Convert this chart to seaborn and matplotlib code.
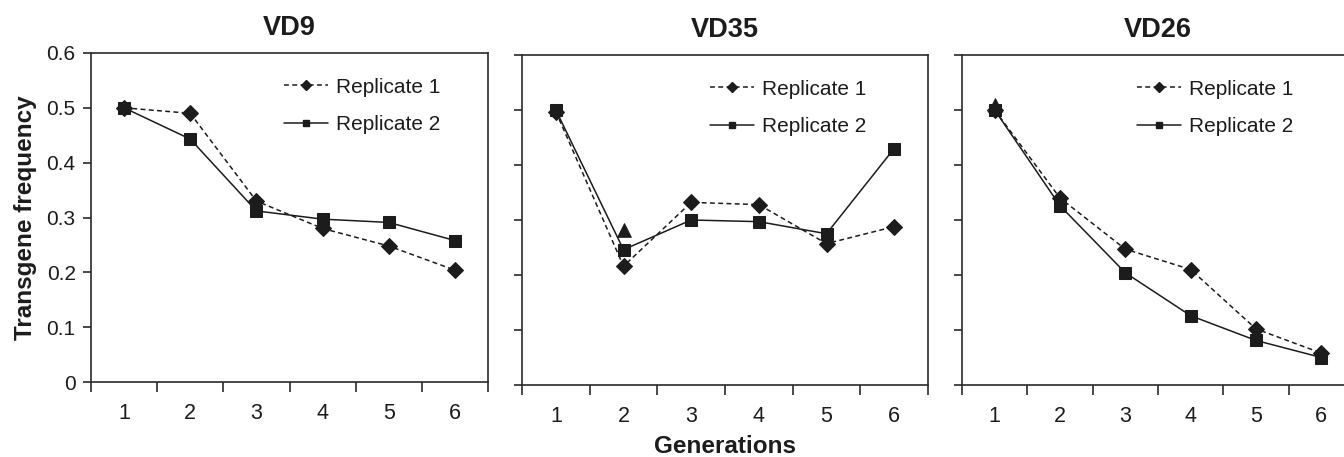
import numpy as np
import pandas as pd
import matplotlib
matplotlib.use("Agg")
import matplotlib.pyplot as plt
from matplotlib.lines import Line2D
import seaborn as sns

# ---------------- data ----------------
generations = [1, 2, 3, 4, 5, 6]
panel_titles = ["VD9", "VD35", "VD26"]
series_names = ["Replicate 1", "Replicate 2"]

vd9_rep1 = [0.500, 0.490, 0.330, 0.280, 0.248, 0.204]
vd9_rep2 = [0.500, 0.443, 0.312, 0.297, 0.291, 0.258]
vd35_rep1 = [0.497, 0.216, 0.332, 0.328, 0.257, 0.288]
vd35_rep2 = [0.500, 0.246, 0.300, 0.297, 0.275, 0.430]
vd26_rep1 = [0.500, 0.340, 0.247, 0.210, 0.102, 0.058]
vd26_rep2 = [0.500, 0.326, 0.204, 0.126, 0.081, 0.050]

# extra isolated triangle points visible in the figure
vd9_tri = [np.nan, np.nan, np.nan, np.nan, np.nan, np.nan]
vd35_tri = [np.nan, 0.282, np.nan, np.nan, np.nan, np.nan]
vd26_tri = [0.510, np.nan, np.nan, np.nan, np.nan, np.nan]

y_ticks = [0, 0.1, 0.2, 0.3, 0.4, 0.5, 0.6]
y_tick_labels = ["0", "0.1", "0.2", "0.3", "0.4", "0.5", "0.6"]
x_label = "Generations"
y_label = "Transgene frequency"

panels = [
    (vd9_rep1, vd9_rep2, vd9_tri),
    (vd35_rep1, vd35_rep2, vd35_tri),
    (vd26_rep1, vd26_rep2, vd26_tri),
]

# ---------------- style ----------------
sns.set_style("ticks")
plt.rcParams["font.family"] = ["Liberation Sans", "DejaVu Sans"]
INK = "#1c1c1c"
SPINE = "#2a2a2a"

fig = plt.figure(figsize=(13.44, 4.57), dpi=100)
W, H = 1344.0, 457.0
boxes = [  # left, right, top, bottom in pixels
    (91, 488, 53, 382),
    (522, 928, 55, 385),
    (962, 1354, 55, 385),
]
legend_x = [0.486, 0.463, 0.446]

axes = []
for i, ((l, r, t, b), (r1, r2, tri)) in enumerate(zip(boxes, panels)):
    ax = fig.add_axes([l / W, 1 - b / H, (r - l) / W, (b - t) / H])
    axes.append(ax)
    df = pd.DataFrame({
        "gen": generations * 2,
        "freq": list(r1) + list(r2),
        "rep": [series_names[0]] * 6 + [series_names[1]] * 6,
    })
    sns.lineplot(
        data=df, x="gen", y="freq", style="rep", ax=ax,
        markers={series_names[0]: "D", series_names[1]: "s"},
        dashes={series_names[0]: (3.2, 2.2), series_names[1]: ""},
        color=INK, markersize=8, linewidth=1.1,
        markeredgecolor=INK, markerfacecolor=INK, legend=False,
    )
    dft = pd.DataFrame({"gen": generations, "freq": tri}).dropna()
    if len(dft):
        sns.scatterplot(data=dft, x="gen", y="freq", marker="^", s=95,
                        color=INK, edgecolor=INK, ax=ax, legend=False)

    ax.set_xlim(0.5, 6.5)
    ax.set_ylim(0, 0.6)
    ax.set_xticks(generations)
    ax.set_xticklabels([str(g) for g in generations])
    ax.set_xticks(np.arange(0.5, 6.6, 1.0), minor=True)
    ax.tick_params(axis="x", which="major", length=0, pad=15,
                   labelsize=15.5, labelcolor=INK)
    ax.tick_params(axis="x", which="minor", length=7, width=1.2,
                   direction="out", color=SPINE)
    ax.set_yticks(y_ticks)
    ax.tick_params(axis="y", which="major", length=6, width=1.2,
                   direction="out", color=SPINE, pad=5,
                   labelsize=15, labelcolor=INK)
    if i == 0:
        ax.set_yticklabels(y_tick_labels)
        ax.set_ylabel(y_label, fontsize=17.5, fontweight="bold", color=INK)
        ax.yaxis.set_label_coords(-0.137, 0.5)
    else:
        ax.set_yticklabels([])
        ax.set_ylabel("")
    if i == 1:
        ax.set_xlabel(x_label, fontsize=17.5, fontweight="bold", color=INK)
        ax.xaxis.set_label_coords(0.5, -0.152)
    else:
        ax.set_xlabel("")
    ax.set_title(panel_titles[i], fontsize=19.5, fontweight="bold",
                 color=INK, pad=13)
    for s in ax.spines.values():
        s.set_visible(True)
        s.set_color(SPINE)
        s.set_linewidth(1.2)

    handles = [
        Line2D([], [], color=INK, linestyle=(0, (3.2, 2.2)), linewidth=1.1,
               marker="D", markersize=5, markerfacecolor=INK, markeredgecolor=INK),
        Line2D([], [], color=INK, linestyle="-", linewidth=1.1,
               marker="s", markersize=5, markerfacecolor=INK, markeredgecolor=INK),
    ]
    ax.legend(handles, series_names, loc="upper left",
              bbox_to_anchor=(legend_x[i], 0.925), frameon=False,
              fontsize=15, borderpad=0, borderaxespad=0,
              handlelength=2.1, handletextpad=0.42, labelspacing=0.9,
              labelcolor=INK)

fig.savefig("out.png", dpi=100)
